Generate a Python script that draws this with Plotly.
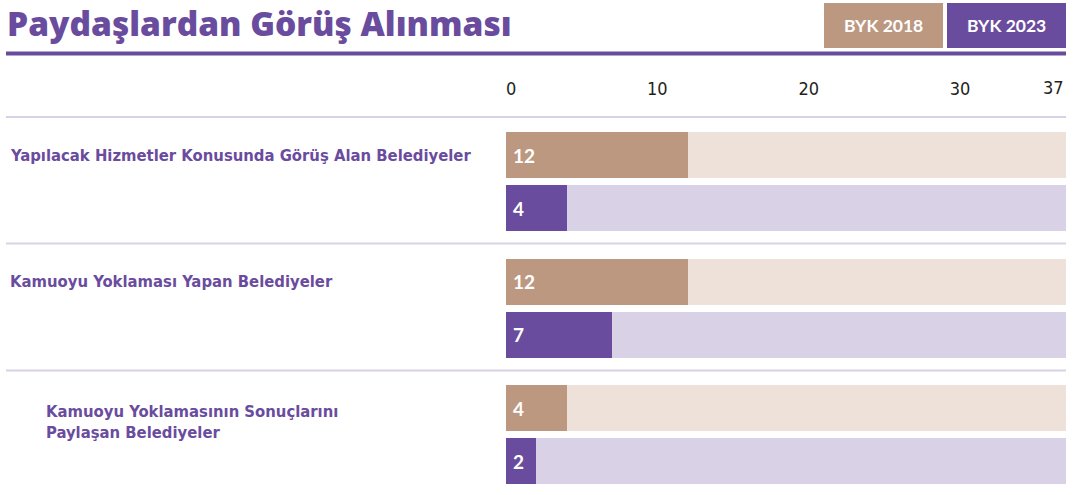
import plotly.graph_objects as go

categories = [
    "Yapılacak Hizmetler Konusunda Görüş Alan Belediyeler",
    "Kamuoyu Yoklaması Yapan Belediyeler",
    "Kamuoyu Yoklamasının Sonuçlarını<br>Paylaşan Belediyeler",
]
series_names = ["BYK 2018", "BYK 2023"]
values_2018 = [12, 12, 4]
values_2023 = [4, 7, 2]
x_max = 37
tick_vals = [0, 10, 20, 30]
tick_text = ["\u00a0\u00a00", "10", "20", "30"]

W, H = 1074, 495
ML, MR, MT, MB = 506, 8, 100, 0
PW, PH = W - ML - MR, H - MT - MB

PURPLE = "#6a4c9e"
TAN = "#bd9881"
TAN_LIGHT = "#ede1d9"
PURPLE_LIGHT = "#d9d1e6"
SEP = "#d9d1e6"
TICK_COLOR = "#231f20"

def xp(px):
    return (px - ML) / PW

def yp(py):
    return (H - py) / PH

LABEL_FONT = "Liberation Sans Narrow, DejaVu Sans Condensed, Lato, sans-serif"

# bar layout (pixel positions on the y axis)
first_center = 155
group_pitch = 126.5
bar_pitch = 53
bar_w = 46

fig = go.Figure()
series = [(values_2018, TAN, TAN_LIGHT), (values_2023, PURPLE, PURPLE_LIGHT)]
for s, (vals, col, light) in enumerate(series):
    ys = [first_center + g * group_pitch + s * bar_pitch for g in range(len(categories))]
    fig.add_trace(go.Bar(x=[x_max] * len(vals), y=ys, orientation="h", width=bar_w,
                         marker=dict(color=light, line=dict(width=0)), hoverinfo="skip",
                         showlegend=False))
    fig.add_trace(go.Bar(x=vals, y=ys, orientation="h", width=bar_w, name=series_names[s],
                         marker=dict(color=col, line=dict(width=0)), showlegend=False))
    for v, yy in zip(vals, ys):
        fig.add_annotation(x=0, y=yy, xref="x", yref="y", text=f"<b>{v}</b>",
                           showarrow=False, xanchor="left", yanchor="middle", xshift=5,
                           font=dict(family="Lato, sans-serif", size=19, color="white"))

# axis end label (right-aligned to the axis maximum)
fig.add_annotation(x=x_max, y=yp(87), xref="x", yref="paper", text=str(x_max),
                   showarrow=False, xanchor="right", yanchor="middle",
                   font=dict(family=LABEL_FONT, size=18, color=TICK_COLOR))

# category labels
label_y = [155, 281.5, 422]
label_x = [8, 8, 44]
for lab, ly, lx in zip(categories, label_y, label_x):
    fig.add_annotation(x=xp(lx), y=ly, xref="paper", yref="y", text=f"<b>{lab}</b>",
                       showarrow=False, xanchor="left", yanchor="middle", align="left",
                       font=dict(family=LABEL_FONT, size=16.5, color=PURPLE))

# title
fig.add_annotation(x=xp(5), y=yp(23), xref="paper", yref="paper",
                   text="Paydaşlardan Görüş Alınması", showarrow=False,
                   xanchor="left", yanchor="middle",
                   font=dict(family="Open Sans, Roboto, sans-serif", size=33.5, color=PURPLE,
                             weight=800))

# legend boxes
boxes = [(824, 943, TAN), (947, 1066, PURPLE)]
for (x0, x1, col), name in zip(boxes, series_names):
    fig.add_shape(type="rect", xref="paper", yref="paper", x0=xp(x0), x1=xp(x1),
                  y0=yp(48), y1=yp(3), fillcolor=col, line=dict(width=0), layer="below")
    fig.add_annotation(x=xp((x0 + x1) / 2), y=yp(26), xref="paper", yref="paper",
                       text=f"<b>{name}</b>", showarrow=False, xanchor="center", yanchor="middle",
                       font=dict(family="Lato, sans-serif", size=17.5, color="white"))

# rules
fig.add_shape(type="line", xref="paper", yref="paper", x0=xp(6), x1=xp(1066),
              y0=yp(53.5), y1=yp(53.5), line=dict(color=PURPLE, width=4))
for py in [117, 243.5, 370.5]:
    fig.add_shape(type="line", xref="paper", yref="paper", x0=xp(6), x1=xp(1066),
                  y0=yp(py), y1=yp(py), line=dict(color=SEP, width=2))

fig.update_layout(
    width=W, height=H, autosize=False, margin=dict(l=ML, r=MR, t=MT, b=MB, autoexpand=False),
    paper_bgcolor="white", plot_bgcolor="white", barmode="overlay", bargap=0,
    xaxis=dict(range=[0, x_max], side="top", tickvals=tick_vals, ticktext=tick_text,
               showgrid=False, zeroline=False, showline=False, ticks="", fixedrange=True,
               automargin=False, ticklabeloverflow="allow", ticklabelstandoff=0,
               tickfont=dict(family=LABEL_FONT, size=18, color=TICK_COLOR)),
    yaxis=dict(range=[H, MT], showgrid=False, zeroline=False, showticklabels=False,
               showline=False, fixedrange=True, automargin=False),
)

fig.write_html(
    "out.html",
    config={"responsive": False, "displayModeBar": False},
    post_script="document.body.style.margin='0';document.body.style.overflow='hidden';",
)
